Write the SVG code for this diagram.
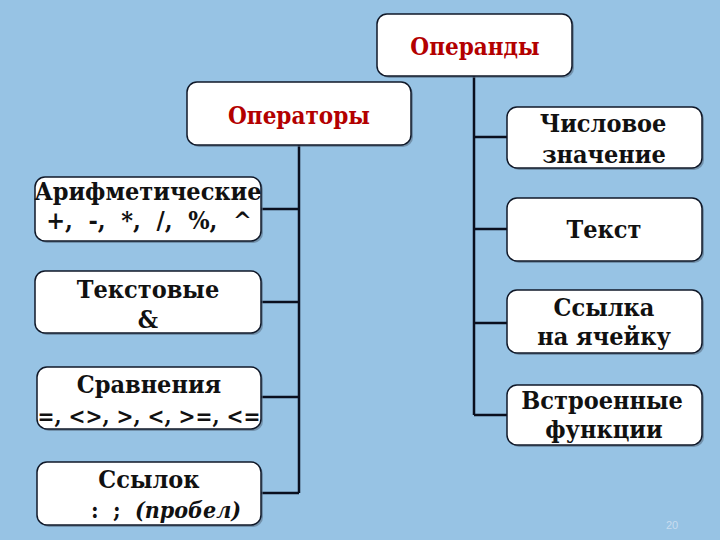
<svg xmlns="http://www.w3.org/2000/svg" width="720" height="540" viewBox="0 0 720 540">
<style>
.box{fill:#ffffff;stroke:#101828;stroke-width:1.5}
.sh{fill:#5a6f86;opacity:0.6}
.t{font-family:"DejaVu Serif",serif;font-stretch:condensed;font-weight:bold;font-size:25px;fill:#111111;text-anchor:middle}
.h{fill:#b30000;font-size:24px}
.ln{stroke:#0a0f1e;stroke-width:2.5;fill:none}
</style>
<rect x="0" y="0" width="720" height="540" fill="#97c3e4"/>
<g id="connectors">
<path class="ln" d="M474,76 V415 M474,137 H507 M474,229 H507 M474,323 H507 M474,415 H507"/>
<path class="ln" d="M299,145 V493 M261,209 H299 M261,302 H299 M261,397 H299 M261,493 H299"/>
</g>
<g id="operandy">
<rect class="sh" x="379" y="16" width="195" height="62" rx="10"/>
<rect class="box" x="377" y="14" width="195" height="62" rx="10"/>
<text class="t h" x="475" y="55">Операнды</text>
</g>
<g id="operatory">
<rect class="sh" x="189" y="84" width="224" height="63" rx="10"/>
<rect class="box" x="187" y="82" width="224" height="63" rx="10"/>
<text class="t h" x="299" y="124">Операторы</text>
</g>
<g id="arif">
<rect class="sh" x="37" y="179" width="226" height="64" rx="10"/>
<rect class="box" x="35" y="177" width="226" height="64" rx="10"/>
<text class="t" x="148" y="200">Арифметические</text>
<text class="t" x="149" y="229" xml:space="preserve">+,  -,  *,  /,  %,  ^</text>
</g>
<g id="textovye">
<rect class="sh" x="37" y="273" width="226" height="62" rx="10"/>
<rect class="box" x="35" y="271" width="226" height="62" rx="10"/>
<text class="t" x="148" y="298">Текстовые</text>
<text class="t" x="148" y="328">&amp;</text>
</g>
<g id="sravneniya">
<rect class="sh" x="39" y="369" width="224" height="62" rx="10"/>
<rect class="box" x="37" y="367" width="224" height="62" rx="10"/>
<text class="t" x="149" y="393">Сравнения</text>
<text class="t" x="149" y="424" style="font-size:22.5px">=, &lt;&gt;, &gt;, &lt;, &gt;=, &lt;=</text>
</g>
<g id="ssylok">
<rect class="sh" x="39" y="464" width="224" height="63" rx="10"/>
<rect class="box" x="37" y="462" width="224" height="63" rx="10"/>
<text class="t" x="149" y="488">Ссылок</text>
<text class="t" x="166" y="518" style="font-size:23px" xml:space="preserve">:  ;  <tspan font-style="italic">(пробел)</tspan></text>
</g>
<g id="chislovoe">
<rect class="sh" x="509" y="109" width="195" height="61" rx="10"/>
<rect class="box" x="507" y="107" width="195" height="61" rx="10"/>
<text class="t" x="603" y="132">Числовое</text>
<text class="t" x="604" y="163">значение</text>
</g>
<g id="tekst">
<rect class="sh" x="509" y="200" width="195" height="63" rx="10"/>
<rect class="box" x="507" y="198" width="195" height="63" rx="10"/>
<text class="t" x="604" y="238">Текст</text>
</g>
<g id="ssylka">
<rect class="sh" x="509" y="292" width="195" height="63" rx="10"/>
<rect class="box" x="507" y="290" width="195" height="63" rx="10"/>
<text class="t" x="604" y="316">Ссылка</text>
<text class="t" x="604" y="345">на ячейку</text>
</g>
<g id="vstroennye">
<rect class="sh" x="509" y="387" width="195" height="60" rx="10"/>
<rect class="box" x="507" y="385" width="195" height="60" rx="10"/>
<text class="t" x="602" y="409">Встроенные</text>
<text class="t" x="604" y="438">функции</text>
</g>
<text x="672" y="529" font-family="Liberation Sans, Arial, sans-serif" font-size="11" fill="#c8dcef" text-anchor="middle">20</text>
</svg>
